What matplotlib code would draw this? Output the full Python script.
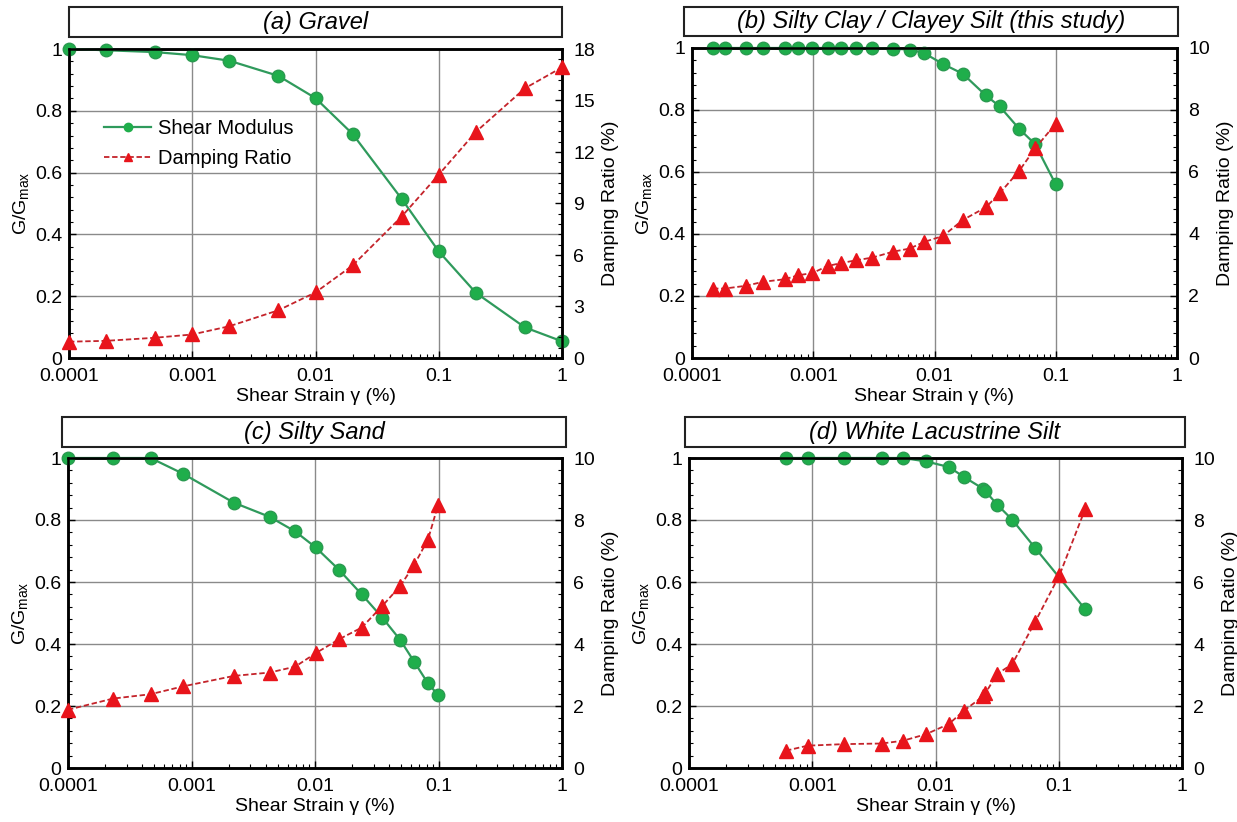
import matplotlib
matplotlib.use("Agg")
import matplotlib.pyplot as plt
from matplotlib.ticker import FixedLocator, FixedFormatter, AutoMinorLocator, LogLocator, NullFormatter
from matplotlib.lines import Line2D
from matplotlib.patches import Rectangle

plt.rcParams['font.family'] = ['Liberation Sans', 'DejaVu Sans']

# ---------------- data ----------------
titles = ["(a) Gravel", "(b) Silty Clay / Clayey Silt (this study)",
          "(c) Silty Sand", "(d) White Lacustrine Silt"]

# (a) Gravel
a_strain = [0.0001, 0.0002, 0.0005, 0.001, 0.002, 0.005, 0.01, 0.02, 0.05, 0.1, 0.2, 0.5, 1.0]
a_g = [1.0, 0.996, 0.99, 0.98, 0.962, 0.913, 0.841, 0.725, 0.515, 0.345, 0.211, 0.099, 0.054]
a_d = [0.95, 1.0, 1.18, 1.37, 1.85, 2.78, 3.82, 5.39, 8.24, 10.68, 13.17, 15.71, 16.93]

# (b) Silty Clay / Clayey Silt
b_strain = [0.000149, 0.000186, 0.000279, 0.000388, 0.000581, 0.000755, 0.000982,
            0.00132, 0.00169, 0.00224, 0.00308, 0.00456, 0.00624, 0.00817,
            0.0118, 0.0171, 0.0265, 0.0344, 0.050, 0.0675, 0.1]
b_g = [1.0, 1.0, 1.0, 1.0, 1.0, 1.0, 1.0, 1.0, 1.0, 1.0, 1.0, 0.998, 0.995, 0.984,
       0.948, 0.917, 0.847, 0.812, 0.739, 0.690, 0.560]
b_d = [2.24, 2.24, 2.33, 2.46, 2.54, 2.67, 2.74, 2.97, 3.06, 3.15, 3.24, 3.43, 3.53,
       3.74, 3.94, 4.45, 4.86, 5.31, 6.04, 6.76, 7.56]

# (c) Silty Sand
c_strain = [0.0001, 0.000232, 0.000466, 0.000847, 0.0022, 0.0043, 0.00692, 0.0101,
            0.0156, 0.0239, 0.0351, 0.049, 0.0635, 0.0822, 0.099]
c_g = [1.0, 1.0, 1.0, 0.950, 0.856, 0.810, 0.763, 0.712, 0.640, 0.560, 0.485, 0.413,
       0.343, 0.273, 0.236]
c_d = [1.88, 2.24, 2.38, 2.63, 2.97, 3.08, 3.27, 3.70, 4.15, 4.53, 5.23, 5.87, 6.55,
       7.37, 8.47]

# (d) White Lacustrine Silt
d_g_strain = [0.000613, 0.000917, 0.0018, 0.00366, 0.00546, 0.00837, 0.01285, 0.017,
              0.0243, 0.0254, 0.0316, 0.0419, 0.0643, 0.164]
d_g = [1.0, 1.0, 1.0, 1.0, 1.0, 0.989, 0.971, 0.939, 0.901, 0.893, 0.850, 0.801, 0.710, 0.512]
d_d_strain = [0.000613, 0.000917, 0.0018, 0.00366, 0.00546, 0.00837, 0.01285, 0.017,
              0.0243, 0.0254, 0.0316, 0.0419, 0.0643, 0.1014, 0.164]
d_d = [0.56, 0.72, 0.77, 0.79, 0.88, 1.09, 1.42, 1.85, 2.31, 2.41, 3.03, 3.35, 4.71,
       6.22, 8.36]

x_ticks = [0.0001, 0.001, 0.01, 0.1, 1]
x_ticklabels = ["0.0001", "0.001", "0.01", "0.1", "1"]
g_ticks = [0, 0.2, 0.4, 0.6, 0.8, 1.0]
g_ticklabels = ["0", "0.2", "0.4", "0.6", "0.8", "1"]
d_ticks_a = [0, 3, 6, 9, 12, 15, 18]
d_ticks_other = [0, 2, 4, 6, 8, 10]

# ---------------- figure ----------------
W, H = 1237, 822
fig = plt.figure(figsize=(W / 100, H / 100), dpi=100)

def fx(px):
    return px / W

def fy(py):
    return 1 - py / H

# axes pixel boxes (left, top, right, bottom)
axes_px = [(69, 49, 562, 358), (692, 48, 1177, 358),
           (68, 458, 562, 768), (689, 458, 1182, 768)]
title_px = [(69, 7, 562, 37), (684, 7, 1178, 36),
            (62, 417, 566, 447), (685, 417, 1185, 447)]

datasets = [
    (a_strain, a_g, a_strain, a_d, d_ticks_a),
    (b_strain, b_g, b_strain, b_d, d_ticks_other),
    (c_strain, c_g, c_strain, c_d, d_ticks_other),
    (d_g_strain, d_g, d_d_strain, d_d, d_ticks_other),
]

G_LINE = '#2f9a5c'
G_MARK = '#1fae4b'
R_LINE = '#c4232a'
R_MARK = '#e8141b'
GRID = '#8a8a8a'
TICK_FS = 14
LABEL_FS = 14

for i, ((l, t, r, b), (xs_g, gs, xs_d, ds, dticks)) in enumerate(zip(axes_px, datasets)):
    ax = fig.add_axes([fx(l), fy(b), fx(r - l), (b - t) / H])
    ax.set_xscale('log')
    ax.set_xlim(1e-4, 1)
    ax.set_ylim(0, 1)
    ax.xaxis.set_major_locator(FixedLocator(x_ticks))
    ax.xaxis.set_major_formatter(FixedFormatter(x_ticklabels))
    ax.xaxis.set_minor_locator(LogLocator(base=10, subs=range(2, 10)))
    ax.xaxis.set_minor_formatter(NullFormatter())
    ax.yaxis.set_major_locator(FixedLocator(g_ticks))
    ax.yaxis.set_major_formatter(FixedFormatter(g_ticklabels))
    ax.yaxis.set_minor_locator(AutoMinorLocator(5))
    ax.grid(True, which='major', color=GRID, lw=1.0)
    ax.set_axisbelow(True)
    ax.tick_params(which='both', direction='in', labelsize=TICK_FS, top=False, right=False)
    ax.tick_params(which='major', length=5, width=1)
    ax.tick_params(which='minor', length=3, width=0.8)
    ax.tick_params(axis='x', pad=7)
    ax.tick_params(axis='y', pad=5)
    for s in ax.spines.values():
        s.set_linewidth(1.8)
    ax.set_xlabel('Shear Strain γ (%)', fontsize=LABEL_FS, labelpad=2)
    ax.set_ylabel('G/G$_{\\mathregular{max}}$', fontsize=LABEL_FS, labelpad=2)

    ax.plot(xs_g, gs, color=G_LINE, lw=1.6, marker='o', ms=9,
            markerfacecolor=G_MARK, markeredgecolor='#2a9a50', clip_on=False, zorder=3)

    ax2 = ax.twinx()
    ax2.set_ylim(0, dticks[-1])
    ax2.yaxis.set_major_locator(FixedLocator(dticks))
    ax2.yaxis.set_major_formatter(FixedFormatter([str(v) for v in dticks]))
    ax2.yaxis.set_minor_locator(AutoMinorLocator(5))
    ax2.tick_params(which='both', direction='in', labelsize=TICK_FS, pad=8)
    ax2.tick_params(which='major', length=5, width=1)
    ax2.tick_params(which='minor', length=3, width=0.8)
    for s in ax2.spines.values():
        s.set_linewidth(1.8)
    ax2.set_ylabel('Damping Ratio (%)', fontsize=LABEL_FS, labelpad=5)
    ax2.plot(xs_d, ds, color=R_LINE, lw=1.3, ls=(0, (3, 1.5)), marker='^', ms=10,
             markerfacecolor=R_MARK, markeredgecolor=R_MARK, clip_on=False, zorder=3)

    if i == 0:
        handles = [
            Line2D([], [], color=G_LINE, lw=1.6, marker='o', ms=6,
                   markerfacecolor=G_MARK, markeredgecolor=G_MARK),
            Line2D([], [], color=R_LINE, lw=1.3, ls=(0, (3, 1.5)), marker='^', ms=6,
                   markerfacecolor=R_MARK, markeredgecolor=R_MARK),
        ]
        ax2.legend(handles, ['Shear Modulus', 'Damping Ratio'], loc='center left',
                   bbox_to_anchor=(0.035, 0.695), frameon=False, fontsize=14.5,
                   handlelength=2.3, handletextpad=0.35, labelspacing=0.55)

    # title box
    tl, tt, tr, tb = title_px[i]
    rect = Rectangle((fx(tl), fy(tb)), fx(tr - tl), (tb - tt) / H,
                     transform=fig.transFigure, fill=False, edgecolor='#222222', lw=1.5)
    fig.patches.append(rect)
    fig.text(fx((tl + tr) / 2), fy((tt + tb) / 2), titles[i], ha='center', va='center',
             fontsize=17, style='italic')

fig.savefig('out.png', dpi=100)
